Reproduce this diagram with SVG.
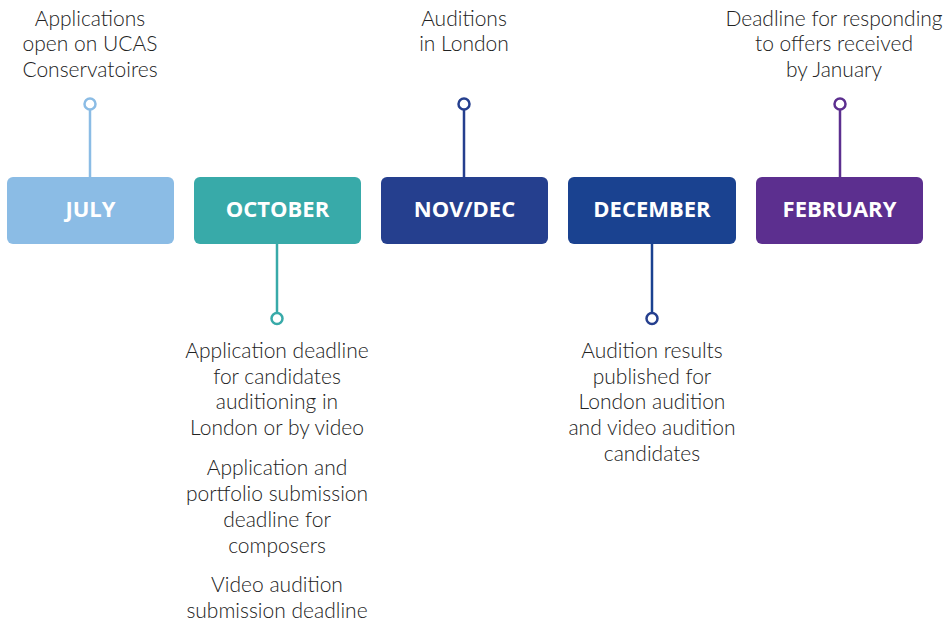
<svg xmlns="http://www.w3.org/2000/svg" width="952" height="623" viewBox="0 0 952 623">
<style>
.box{stroke:none}
.lbl{font-family:"Open Sans","Liberation Sans",sans-serif;font-weight:700;font-size:22px;fill:#fff;text-anchor:middle}
.txt{font-family:Lato,"Open Sans","Liberation Sans",sans-serif;font-weight:300;font-size:21px;fill:#222;text-anchor:middle}
.ln{fill:none;stroke-width:2.5}
.dot{fill:#fff;stroke-width:2.5}
</style>
<rect width="952" height="623" fill="#fff"/>
<g id="connectors">
<line class="ln" x1="90" y1="110" x2="90" y2="177" stroke="#8BBCE5"/>
<circle class="dot" cx="90" cy="104" r="5.5" stroke="#8BBCE5"/>
<line class="ln" x1="277" y1="244" x2="277" y2="313" stroke="#38AAA9"/>
<circle class="dot" cx="277" cy="318.5" r="5.5" stroke="#38AAA9"/>
<line class="ln" x1="464" y1="110" x2="464" y2="177" stroke="#253F8E"/>
<circle class="dot" cx="464" cy="104" r="5.5" stroke="#253F8E"/>
<line class="ln" x1="652" y1="244" x2="652" y2="313" stroke="#1A4290"/>
<circle class="dot" cx="652" cy="318.5" r="5.5" stroke="#253F8E"/>
<line class="ln" x1="840" y1="110" x2="840" y2="177" stroke="#5C2F8F"/>
<circle class="dot" cx="840" cy="104" r="5.5" stroke="#5C2F8F"/>
</g>
<g id="july">
<rect class="box" x="7" y="177" width="167" height="67" rx="6" fill="#8BBCE5"/>
<text class="lbl" x="90.5" y="217">JULY</text>
<text class="txt" x="90" y="26">Applications</text>
<text class="txt" x="90" y="51">open on UCAS</text>
<text class="txt" x="90" y="77">Conservatoires</text>
</g>
<g id="october">
<rect class="box" x="194" y="177" width="167" height="67" rx="6" fill="#38AAA9"/>
<text class="lbl" x="277.5" y="217">OCTOBER</text>
<text class="txt" x="277" y="358">Application deadline</text>
<text class="txt" x="277" y="384">for candidates</text>
<text class="txt" x="277" y="409">auditioning in</text>
<text class="txt" x="277" y="435">London or by video</text>
<text class="txt" x="277" y="475">Application and</text>
<text class="txt" x="277" y="501">portfolio submission</text>
<text class="txt" x="277" y="527">deadline for</text>
<text class="txt" x="277" y="553">composers</text>
<text class="txt" x="277" y="592">Video audition</text>
<text class="txt" x="277" y="618">submission deadline</text>
</g>
<g id="novdec">
<rect class="box" x="381" y="177" width="167" height="67" rx="6" fill="#253F8E"/>
<text class="lbl" x="464.5" y="217">NOV/DEC</text>
<text class="txt" x="464" y="26">Auditions</text>
<text class="txt" x="464" y="51">in London</text>
</g>
<g id="december">
<rect class="box" x="568" y="177" width="168" height="67" rx="6" fill="#1A4290"/>
<text class="lbl" x="652" y="217">DECEMBER</text>
<text class="txt" x="652" y="358">Audition results</text>
<text class="txt" x="652" y="384">published for</text>
<text class="txt" x="652" y="409">London audition</text>
<text class="txt" x="652" y="435">and video audition</text>
<text class="txt" x="652" y="461">candidates</text>
</g>
<g id="february">
<rect class="box" x="756" y="177" width="167" height="67" rx="6" fill="#5C2F8F"/>
<text class="lbl" x="839.5" y="217">FEBRUARY</text>
<text class="txt" x="834" y="26">Deadline for responding</text>
<text class="txt" x="834" y="51">to offers received</text>
<text class="txt" x="834" y="77">by January</text>
</g>
</svg>
